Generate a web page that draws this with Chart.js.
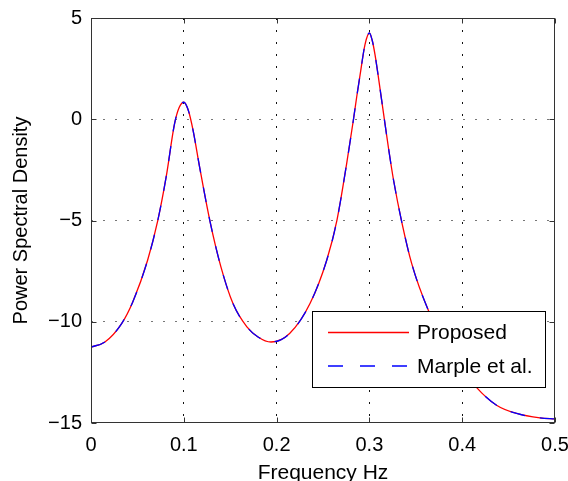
<!DOCTYPE html>
<html>
<head>
<meta charset="utf-8">
<script src="https://cdn.jsdelivr.net/npm/chart.js@4/dist/chart.umd.min.js"></script>
<style>
  html, body { margin: 0; padding: 0; background: #fff; }
  #wrap { width: 568px; height: 481px; }
</style>
</head>
<body>
<div id="wrap"><canvas id="myChart" width="568" height="481"></canvas></div>
<script>
const freq = [0, 0.015, 0.033, 0.045, 0.061, 0.072, 0.081, 0.090, 0.095, 0.100, 0.105, 0.110, 0.117, 0.128,
  0.140, 0.153, 0.168, 0.180, 0.194, 0.214, 0.236, 0.254, 0.265, 0.2755, 0.2827, 0.2863, 0.290, 0.2953,
  0.300, 0.303, 0.306, 0.3132, 0.3204, 0.326, 0.335, 0.3456, 0.3635, 0.380, 0.400, 0.4156, 0.437, 0.4587, 0.4838, 0.500];

// Proposed method PSD
const proposed = [-11.25, -11.0, -10.09, -9.02, -6.96, -4.99, -2.85, -0.23, 0.58, 0.84, 0.42, -0.55, -2.35, -4.99,
  -7.29, -9.1, -10.25, -10.75, -11.0, -10.58, -9.1, -6.96, -4.99, -2.19, -0.05, 1.1, 2.2, 3.7,
  4.26, 3.9, 3.2, 0.94, -1.37, -3.0, -5.1, -7.13, -9.43, -10.9, -12.3, -13.25, -14.12, -14.53, -14.75, -14.8];

// Marple et al. PSD (lies on top of the proposed curve)
const marple = [-11.25, -11.0, -10.09, -9.02, -6.96, -4.99, -2.85, -0.23, 0.58, 0.84, 0.42, -0.55, -2.35, -4.99,
  -7.29, -9.1, -10.25, -10.75, -11.0, -10.58, -9.1, -6.96, -4.99, -2.19, -0.05, 1.1, 2.2, 3.7,
  4.26, 3.9, 3.2, 0.94, -1.37, -3.0, -5.1, -7.13, -9.43, -10.9, -12.3, -13.25, -14.12, -14.53, -14.75, -14.8];

const xTicks = [0, 0.1, 0.2, 0.3, 0.4, 0.5];
const yTicks = [-15, -10, -5, 0, 5];
const seriesNames = ['Proposed', 'Marple et al.'];

const FONT = 'Arial, "Liberation Sans", Helvetica, sans-serif';

const toPoints = function (vals) {
  return vals.map(function (v, i) { return { x: freq[i], y: v }; });
};

//draws the box, the inward tick marks and the legend inside the plot
const boxPlugin = {
  id: 'boxPlugin',
  afterDraw: function (chart) {
    const ctx = chart.ctx;
    const a = chart.chartArea;
    const xs = chart.scales.x, ys = chart.scales.y;
    const L = Math.round(a.left) + 0.5, R = Math.round(a.right) - 0.5;
    const T = Math.round(a.top) + 0.5, B = Math.round(a.bottom) - 0.5;
    ctx.save();
    ctx.strokeStyle = '#333';
    ctx.lineWidth = 1;
    ctx.setLineDash([]);
    ctx.strokeRect(L, T, R - L, B - T);
    const tl = 5;
    ctx.beginPath();
    xTicks.forEach(function (t) {
      const px = Math.round(xs.getPixelForValue(t)) + 0.5;
      ctx.moveTo(px, B); ctx.lineTo(px, B - tl);
      ctx.moveTo(px, T); ctx.lineTo(px, T + tl);
    });
    yTicks.forEach(function (t) {
      const py = Math.round(ys.getPixelForValue(t)) + 0.5;
      ctx.moveTo(L, py); ctx.lineTo(L + tl, py);
      ctx.moveTo(R, py); ctx.lineTo(R - tl, py);
    });
    ctx.stroke();

    // legend
    const lx = 312.5, ly = 311.5, lw = 233, lh = 76;
    ctx.fillStyle = '#fff';
    ctx.fillRect(lx, ly, lw, lh);
    ctx.strokeStyle = '#000';
    ctx.strokeRect(lx, ly, lw, lh);
    const rows = [332.5, 366];
    const colors = ['#ff0000', '#0000ff'];
    const dashes = [[], [15, 17]];
    rows.forEach(function (ry, i) {
      ctx.beginPath();
      ctx.strokeStyle = colors[i];
      ctx.lineWidth = 1.3;
      ctx.setLineDash(dashes[i]);
      ctx.moveTo(328, ry);
      ctx.lineTo(409, ry);
      ctx.stroke();
      ctx.setLineDash([]);
      ctx.fillStyle = '#000';
      ctx.font = '21px ' + FONT;
      ctx.textBaseline = 'middle';
      ctx.textAlign = 'left';
      ctx.fillText(seriesNames[i], 417, ry + 1);
    });
    ctx.restore();
  }
};

const myChart = new Chart(document.getElementById('myChart').getContext('2d'), {
  type: 'line',
  data: {
    datasets: [{
      label: seriesNames[0],
      data: toPoints(proposed),
      borderColor: '#ff0000',
      backgroundColor: '#ff0000',
      borderWidth: 1.3,
      pointRadius: 0,
      fill: false,
      cubicInterpolationMode: 'monotone',
      order: 1
    }, {
      label: seriesNames[1],
      data: toPoints(marple),
      borderColor: '#0000ff',
      backgroundColor: '#0000ff',
      borderWidth: 1.3,
      borderDash: [15, 15],
      pointRadius: 0,
      fill: false,
      cubicInterpolationMode: 'monotone',
      order: 0
    }]
  },
  options: {
    responsive: false,
    animation: false,
    events: [],
    layout: { padding: { top: 18, right: 13, left: 0, bottom: 0 } },
    plugins: { legend: { display: false }, tooltip: { enabled: false } },
    scales: {
      x: {
        type: 'linear',
        min: 0, max: 0.5,
        afterBuildTicks: function (s) { s.ticks = xTicks.map(function (v) { return { value: v }; }); },
        afterFit: function (s) { s.height = 58; s.paddingLeft = 0; s.paddingRight = 0; },
        border: { display: false, dash: [2, 10] },
        grid: {
          drawTicks: false,
          color: function (c) { return (c.tick && (c.tick.value === 0 || c.tick.value === 0.5)) ? 'rgba(0,0,0,0)' : '#111'; }
        },
        ticks: {
          padding: 10,
          color: '#000',
          font: { family: FONT, size: 20 },
          maxRotation: 0,
          callback: function (v) { return v === 0 ? '0' : v.toFixed(1); }
        },
        title: { display: true, text: 'Frequency Hz', color: '#000', font: { family: FONT, size: 21 }, padding: { top: 0, bottom: -5 } }
      },
      y: {
        min: -15, max: 5,
        afterBuildTicks: function (s) { s.ticks = yTicks.map(function (v) { return { value: v }; }); },
        afterFit: function (s) { s.width = 91; s.paddingTop = 0; s.paddingBottom = 0; },
        border: { display: false, dash: [2, 10] },
        grid: {
          drawTicks: false,
          color: function (c) { return (c.tick && (c.tick.value === -15 || c.tick.value === 5)) ? 'rgba(0,0,0,0)' : '#777'; }
        },
        ticks: {
          padding: 9,
          color: '#000',
          font: { family: FONT, size: 20 },
          callback: function (v) { return v < 0 ? '\u2212' + Math.abs(v) : String(v); }
        },
        title: { display: true, text: 'Power Spectral Density', color: '#000', font: { family: FONT, size: 20 }, padding: { top: 9, bottom: 0 } }
      }
    }
  },
  plugins: [boxPlugin]
});
</script>
</body>
</html>
